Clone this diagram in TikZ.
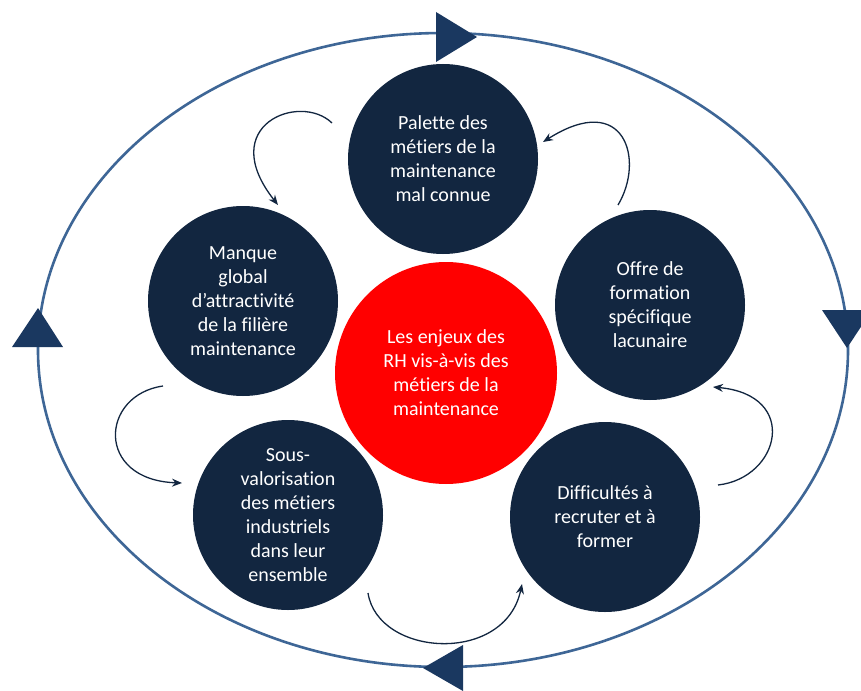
\documentclass[tikz,border=0pt]{standalone}
\usepackage{fontspec}
\setmainfont{Carlito}[Ligatures={NoCommon}]
\usetikzlibrary{arrows.meta}
\definecolor{navy}{RGB}{18,38,64}
\definecolor{tri}{RGB}{26,56,96}
\definecolor{ring}{RGB}{62,102,150}
\definecolor{hotred}{RGB}{255,0,0}
\begin{document}
\begin{tikzpicture}[x=1pt,y=-1pt,
  bubble/.style={circle, fill=navy, text=white, minimum size=190pt, inner sep=0pt,
    align=center, font=\fontsize{20}{24}\selectfont},
  core/.style={circle, fill=hotred, text=white, minimum size=222pt, inner sep=0pt,
    align=center, font=\fontsize{20}{24}\selectfont},
  flow/.style={draw=navy, line width=1.3pt, -{Stealth[length=10pt,width=8pt]}},
  ringline/.style={draw=ring, line width=2.6pt},
  marker/.style={fill=tri}]
\useasboundingbox (0,0) rectangle (861,690);
\fill[white] (0,0) rectangle (861,690);

% outer ring
\draw[ringline] (443,350) ellipse [x radius=405, y radius=317];
\fill[marker] (436,12) -- (436,62) -- (477,37) -- cycle;
\fill[marker] (822,310) -- (872,310) -- (847,348) -- cycle;
\fill[marker] (463,645) -- (463,691) -- (423,668) -- cycle;
\fill[marker] (12,347) -- (63,347) -- (38,308) -- cycle;

% nodes
\node[bubble] (palette) at (443,159) {Palette des\\métiers de la\\maintenance\\mal connue};
\node[bubble] (manque) at (243,301) {Manque\\global\\d’attractivité\\de la filière\\maintenance};
\node[bubble] (offre) at (650,305) {Offre de\\formation\\spécifique\\lacunaire};
\node[bubble] (sous) at (288,515) {Sous-\\valorisation\\des métiers\\industriels\\dans leur\\ensemble};
\node[bubble] (diff) at (605,517) {Difficultés à\\recruter et à\\former};
\node[core] (centre) at (446,373) {Les enjeux des\\RH vis-à-vis des\\métiers de la\\maintenance};

% connector ends
\coordinate (a1) at (332,123); \coordinate (b1) at (278,205);
\coordinate (a2) at (618,205); \coordinate (b2) at (543,142);
\coordinate (a3) at (718,485); \coordinate (b3) at (713,387);
\coordinate (a4) at (368,593); \coordinate (b4) at (522,584);
\coordinate (a5) at (163,386); \coordinate (b5) at (182,483);

\draw[flow] (a1) .. controls (300,92) and (215,125) .. (b1);
\draw[flow] (a2) .. controls (645,160) and (625,90) .. (b2);
\draw[flow] (a3) .. controls (780,478) and (800,395) .. (b3);
\draw[flow] (a4) .. controls (378,657) and (505,665) .. (b4);
\draw[flow] (a5) .. controls (100,395) and (95,480) .. (b5);
\end{tikzpicture}
\end{document}
